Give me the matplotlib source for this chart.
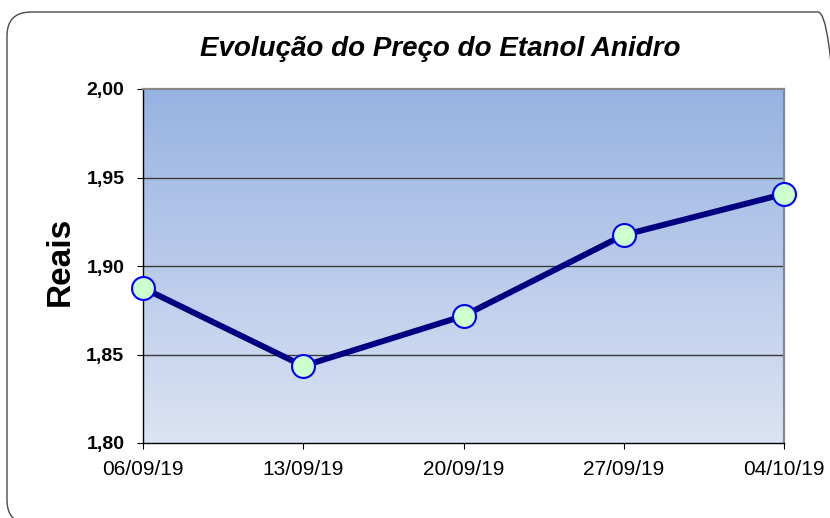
import matplotlib
matplotlib.use("Agg")
import matplotlib.pyplot as plt
import numpy as np
from matplotlib.patches import FancyBboxPatch
from matplotlib.colors import LinearSegmentedColormap

dates = ["06/09/19", "13/09/19", "20/09/19", "27/09/19", "04/10/19"]
precos = [1.8876, 1.8435, 1.8718, 1.9175, 1.9407]
y_ticks = [1.80, 1.85, 1.90, 1.95, 2.00]
y_labels = ["1,80", "1,85", "1,90", "1,95", "2,00"]

plt.rcParams['font.family'] = ['Liberation Sans', 'DejaVu Sans']

fig = plt.figure(figsize=(8.3, 5.18), dpi=100)
fig.patch.set_facecolor("white")

border = FancyBboxPatch((0.07, -0.06), 8.35, 5.12,
                        boxstyle="round,pad=0,rounding_size=0.24",
                        transform=fig.dpi_scale_trans, facecolor="none",
                        edgecolor="#4a4a4a", linewidth=1.0)
fig.patches.append(border)

ax = fig.add_axes([143/830, 1 - 443/518, (784 - 143)/830, (443 - 89)/518])
x = np.arange(len(dates))
ax.set_xlim(0, len(dates) - 1)
ax.set_ylim(1.80, 2.00)

cmap = LinearSegmentedColormap.from_list("g", ["#DCE3F3", "#97B3E2"])
grad = np.linspace(0, 1, 256).reshape(-1, 1)
ax.imshow(grad, aspect="auto", cmap=cmap, origin="lower",
          extent=[0, len(dates) - 1, 1.80, 2.00], zorder=0)

for yv in y_ticks[1:-1]:
    ax.axhline(yv, color="#3a3a3a", linewidth=1.0, zorder=1)

ax.plot(x, precos, color="#000080", linewidth=4.3, zorder=3,
        marker="o", markersize=16.5, markerfacecolor="#CCFFCC",
        markeredgecolor="#0000FF", markeredgewidth=1.5, clip_on=False)

ax.set_yticks(y_ticks)
ax.set_yticklabels(y_labels, fontsize=14, fontweight="bold")
ax.set_xticks(x)
ax.set_xticklabels(dates, fontsize=15)
ax.tick_params(axis="y", direction="out", length=4.5, width=0.8, pad=9)
ax.tick_params(axis="x", direction="out", length=4.5, width=0.8, pad=8)

for s in ["left", "bottom"]:
    ax.spines[s].set_color("#000000")
    ax.spines[s].set_linewidth(1.0)
for s in ["top", "right"]:
    ax.spines[s].set_color("#888888")
    ax.spines[s].set_linewidth(1.6)

fig.text(60/830, 1 - 261/518, "Reais", rotation=90, ha="center", va="center",
         fontsize=24, fontweight="bold")

fig.text(440/830, 1 - 49/518, "Evolução do Preço do Etanol Anidro",
         ha="center", va="center", fontsize=20, fontweight="bold", style="italic")

fig.savefig("out.png", dpi=100)
